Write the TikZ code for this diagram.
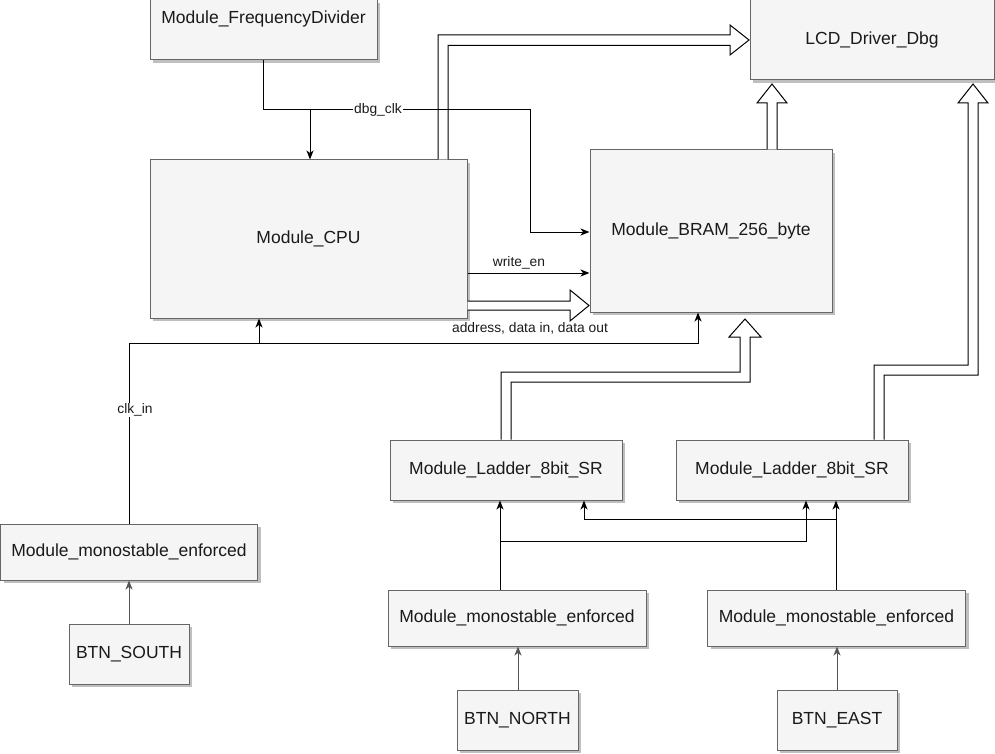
\documentclass[tikz,border=0pt]{standalone}
\usepackage{fontspec}
\setmainfont{Liberation Sans}
\usetikzlibrary{arrows.meta,shadows,calc}
\definecolor{boxfill}{HTML}{F5F5F5}
\definecolor{boxline}{HTML}{666666}
\definecolor{txt}{HTML}{1A1A1A}
\definecolor{shad}{HTML}{BFBFBF}
\definecolor{wiregray}{HTML}{555555}
\begin{document}
\begin{tikzpicture}[x=1pt,y=-1pt,
 box/.style={draw=boxline, fill=boxfill, line width=1pt, inner sep=0pt, text=txt,
   font=\fontsize{17.5}{21}\selectfont,
   drop shadow={shadow xshift=3pt, shadow yshift=-3pt, fill=shad, opacity=1}},
 wire/.style={line width=1pt, draw=black},
 arr/.style={wire, -{Stealth[length=9pt,width=7pt,inset=2.5pt]}},
 garr/.style={arr, draw=wiregray},
 flex/.style={draw=black, fill=white, line width=1pt, line join=miter},
 lbl/.style={font=\fontsize{13.8}{16}\selectfont, text=txt, inner sep=1pt}
]
\useasboundingbox (0,0) rectangle (995,754);

% boxes
\node[box, minimum width=227pt, minimum height=60pt, text height=24pt, text depth=36pt] (fd) at (263.5,30) {Module\_FrequencyDivider};
\node[box, minimum width=317pt, minimum height=158pt] (cpu) at (308.5,239) {Module\_CPU};
\node[box, minimum width=244pt, minimum height=80pt] (lcd) at (872,40) {LCD\_Driver\_Dbg};
\node[box, minimum width=242pt, minimum height=162pt] (bram) at (711,231) {Module\_BRAM\_256\_byte};
\node[box, minimum width=232pt, minimum height=60pt] (lad1) at (506,470) {Module\_Ladder\_8bit\_SR};
\node[box, minimum width=232pt, minimum height=60pt] (lad2) at (792,470) {Module\_Ladder\_8bit\_SR};
\node[box, minimum width=257pt, minimum height=56pt] (monoL) at (129,552) {Module\_monostable\_enforced};
\node[box, minimum width=120pt, minimum height=60pt] (btnS) at (129,654) {BTN\_SOUTH};
\node[box, minimum width=258pt, minimum height=56pt] (monoM) at (517,618) {Module\_monostable\_enforced};
\node[box, minimum width=121pt, minimum height=60pt] (btnN) at (517.5,720) {BTN\_NORTH};
\node[box, minimum width=258pt, minimum height=56pt] (monoR) at (836.5,618) {Module\_monostable\_enforced};
\node[box, minimum width=120pt, minimum height=60pt] (btnE) at (837,720) {BTN\_EAST};

% bus (flex) arrows
\path[flex] (438,159.5) -- (438,35) -- (730,35) -- (730,25) -- (749,40) -- (730,55) -- (730,45.5) -- (448,45.5) -- (448,159.5);
\path[flex] (467.5,301) -- (570,301) -- (570,290) -- (589,305.5) -- (570,321) -- (570,310) -- (467.5,310);
\path[flex] (767,149.5) -- (767,103) -- (757,103) -- (772,84) -- (787,103) -- (777,103) -- (777,149.5);
\path[flex] (501,439.5) -- (501,372) -- (740,372) -- (740,337) -- (729,337) -- (745,319) -- (761,337) -- (750,337) -- (750,382) -- (511,382) -- (511,439.5);
\path[flex] (874,439.5) -- (874,365) -- (968,365) -- (968,103) -- (958,103) -- (973,84) -- (988,103) -- (978,103) -- (978,375) -- (884,375) -- (884,439.5);

% thin connectors
\draw[arr] (fd.south) |- (310,110) -- (310,110 |- cpu.north);
\draw[arr] (fd.south) |- (530,110) |- (bram.west |- 0,232);
\node[lbl, fill=white] (dbg) at (378,110) {dbg\_clk};

\draw[arr] (cpu.east |- 0,273) -- (bram.west |- 0,273);
\node[lbl] (wen) at (519,263) {write\_en};

\draw[arr] (monoL.north) |- (259,343) -- (259,343 |- cpu.south);
\draw[arr] (monoL.north) |- (698,343) -- (698,343 |- bram.south);
\node[lbl, fill=white] (clk) at (135,410) {clk\_in};
\node[lbl] (addr) at (530,328) {address, data in, data out};

\draw[arr] (500,0 |- monoM.north) -- (500,0 |- lad1.south);
\draw[arr] (500,0 |- monoM.north) |- (806,541) -- (806,0 |- lad2.south);
\draw[arr] (836,0 |- monoR.north) -- (836,0 |- lad2.south);
\draw[arr] (836,0 |- monoR.north) |- (584,519) -- (584,0 |- lad1.south);

\draw[garr] (btnS.north) -- (monoL.south);
\draw[garr] (518,0 |- btnN.north) -- (518,0 |- monoM.south);
\draw[garr] (837,0 |- btnE.north) -- (837,0 |- monoR.south);
\end{tikzpicture}
\end{document}
